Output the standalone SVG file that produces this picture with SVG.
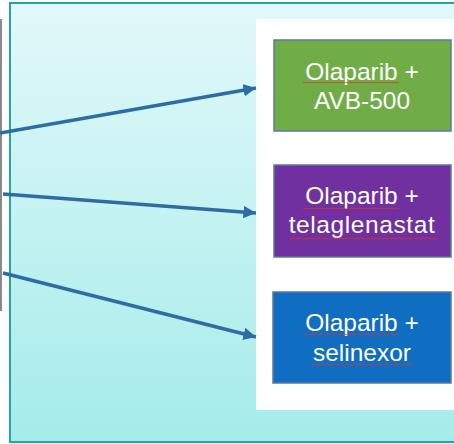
<svg xmlns="http://www.w3.org/2000/svg" width="454" height="444" viewBox="0 0 454 444">
  <defs>
    <linearGradient id="bg" x1="0" y1="0" x2="0" y2="1">
      <stop offset="0" stop-color="#E3F8FA"/>
      <stop offset="1" stop-color="#A4ECEA"/>
    </linearGradient>
    <marker id="ah" viewBox="0 0 10 10" refX="10" refY="5" markerWidth="3.5" markerHeight="3.5" orient="auto" markerUnits="strokeWidth">
      <path d="M0,0 L10,5 L0,10 Z" fill="#2E6CA4"/>
    </marker>
    <pattern id="wv" patternUnits="userSpaceOnUse" x="0" y="0" width="3" height="3">
      <path d="M0,0.6 L1.5,2.2 L3,0.6" fill="none" stroke="#E0302A" stroke-width="0.9"/>
    </pattern>
  </defs>
  <style>
    .box { stroke: #5B7A9E; stroke-width: 1.5; }
    .lbl { font-family: "Liberation Sans", Arial, sans-serif; font-size: 24.5px; fill: #FFFFFF; text-anchor: middle; }
    .conn { stroke: #2E6CA4; stroke-width: 3.6; fill: none; marker-end: url(#ah); }
    .sp { fill: url(#wv); }
  </style>
  <rect x="0" y="0" width="454" height="444" fill="#FFFFFF"/>
  <rect x="0" y="19" width="2" height="292" fill="#8A8A8A"/>
  <rect x="10" y="3" width="450" height="439" fill="url(#bg)" stroke="#22A69F" stroke-width="2"/>
  <rect x="256" y="19" width="200" height="391" fill="#FFFFFF"/>

  <g id="connectors">
    <line class="conn" x1="0" y1="133" x2="256" y2="88"/>
    <line class="conn" x1="3" y1="194" x2="256" y2="213"/>
    <line class="conn" x1="3" y1="273" x2="256" y2="337"/>
  </g>

  <g id="node-avb500">
    <rect class="box" x="274" y="40" width="177" height="91" fill="#70AD47"/>
    <text class="lbl" x="362" y="80">Olaparib +</text>
    <text class="lbl" x="362" y="109">AVB-500</text>
    <rect class="sp" x="303" y="81" width="96" height="3"/>
  </g>
  <g id="node-telaglenastat">
    <rect class="box" x="274" y="165" width="177" height="92" fill="#7030A0"/>
    <text class="lbl" x="362" y="204">Olaparib +</text>
    <text class="lbl" x="362" y="233" letter-spacing="0.6">telaglenastat</text>
    <rect class="sp" x="303" y="207" width="96" height="3"/>
    <rect class="sp" x="290" y="237" width="147" height="3"/>
  </g>
  <g id="node-selinexor">
    <rect class="box" x="273" y="292" width="178" height="91" fill="#0F6DC2"/>
    <text class="lbl" x="362" y="331">Olaparib +</text>
    <text class="lbl" x="362" y="361">selinexor</text>
    <rect class="sp" x="303" y="333" width="96" height="3"/>
    <rect class="sp" x="311" y="363" width="102" height="3"/>
  </g>
</svg>
